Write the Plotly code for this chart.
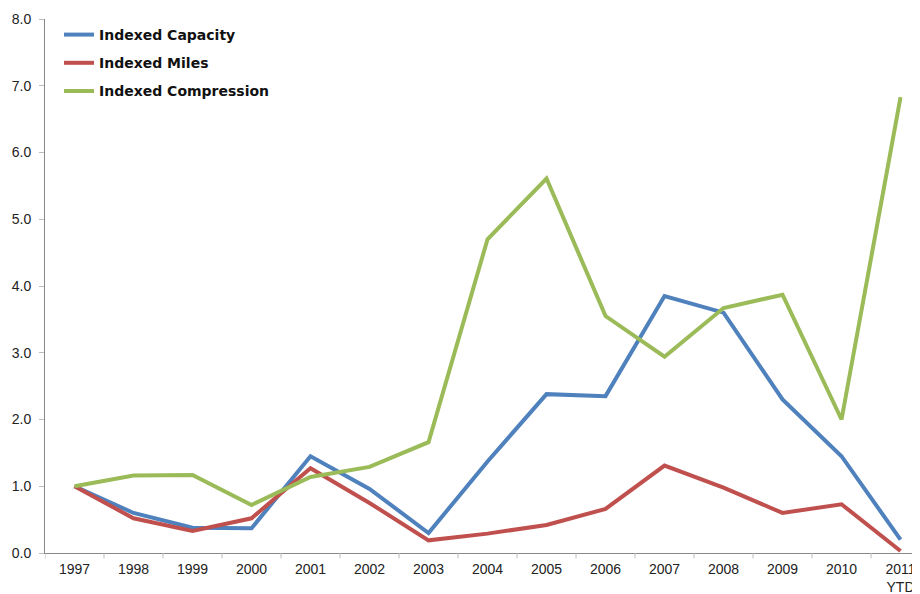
import plotly.graph_objects as go

categories = ["1997", "1998", "1999", "2000", "2001", "2002", "2003", "2004",
              "2005", "2006", "2007", "2008", "2009", "2010", "2011<br>YTD"]
capacity = [1.0, 0.60, 0.38, 0.37, 1.45, 0.96, 0.30, 1.37, 2.38, 2.35, 3.85, 3.60, 2.30, 1.45, 0.20]
miles = [1.0, 0.52, 0.33, 0.52, 1.27, 0.75, 0.19, 0.29, 0.42, 0.66, 1.31, 0.98, 0.60, 0.73, 0.03]
compression = [1.0, 1.16, 1.17, 0.72, 1.14, 1.29, 1.66, 4.70, 5.61, 3.55, 2.94, 3.67, 3.87, 2.00, 6.83]
y_ticks = [0, 1, 2, 3, 4, 5, 6, 7, 8]

series = [
    ("Indexed Capacity", capacity, "#4F81BD"),
    ("Indexed Miles", miles, "#C0504D"),
    ("Indexed Compression", compression, "#9BBB59"),
]

fig = go.Figure()
for name, vals, color in series:
    fig.add_trace(go.Scatter(
        x=list(range(len(categories))), y=vals, name=name, mode="lines",
        line=dict(color=color, width=4), legendgroup=name,
    ))

fig.update_layout(
    width=912, height=586,
    margin=dict(l=37, r=0, t=11, b=41),
    paper_bgcolor="white", plot_bgcolor="white",
    font=dict(family="Liberation Sans, Arial, sans-serif", size=14, color="#222"),
    showlegend=True,
    legend=dict(
        x=0.016, y=1.0, xanchor="left", yanchor="top",
        bgcolor="rgba(0,0,0,0)",
        font=dict(family="DejaVu Sans, sans-serif", size=14, color="#111", weight="bold"),
        itemwidth=30, tracegroupgap=7, traceorder="grouped",
    ),
    xaxis=dict(
        tickmode="array", tickvals=list(range(len(categories))), ticktext=categories,
        range=[-0.5, 14.33], showgrid=False, zeroline=False, automargin=False,
        showline=True, linecolor="#888", linewidth=1,
        ticks="", ticklabelstandoff=3, tickfont=dict(size=14, color="#222"),
    ),
    yaxis=dict(
        range=[0, 8], tickvals=y_ticks, tickformat=".1f", automargin=False,
        showgrid=False, zeroline=False,
        showline=True, linecolor="#888", linewidth=1,
        ticks="outside", ticklen=5, tickcolor="#bbb", ticklabelstandoff=5,
        tickfont=dict(size=14, color="#222"),
    ),
)

# category boundary tick marks along the x axis
for i in range(len(categories)):
    fig.add_shape(type="line", xref="x", yref="paper",
                  x0=i - 0.5, x1=i - 0.5, y0=0, y1=-0.01,
                  line=dict(color="#bbb", width=1))

fig.write_html("out.html")
